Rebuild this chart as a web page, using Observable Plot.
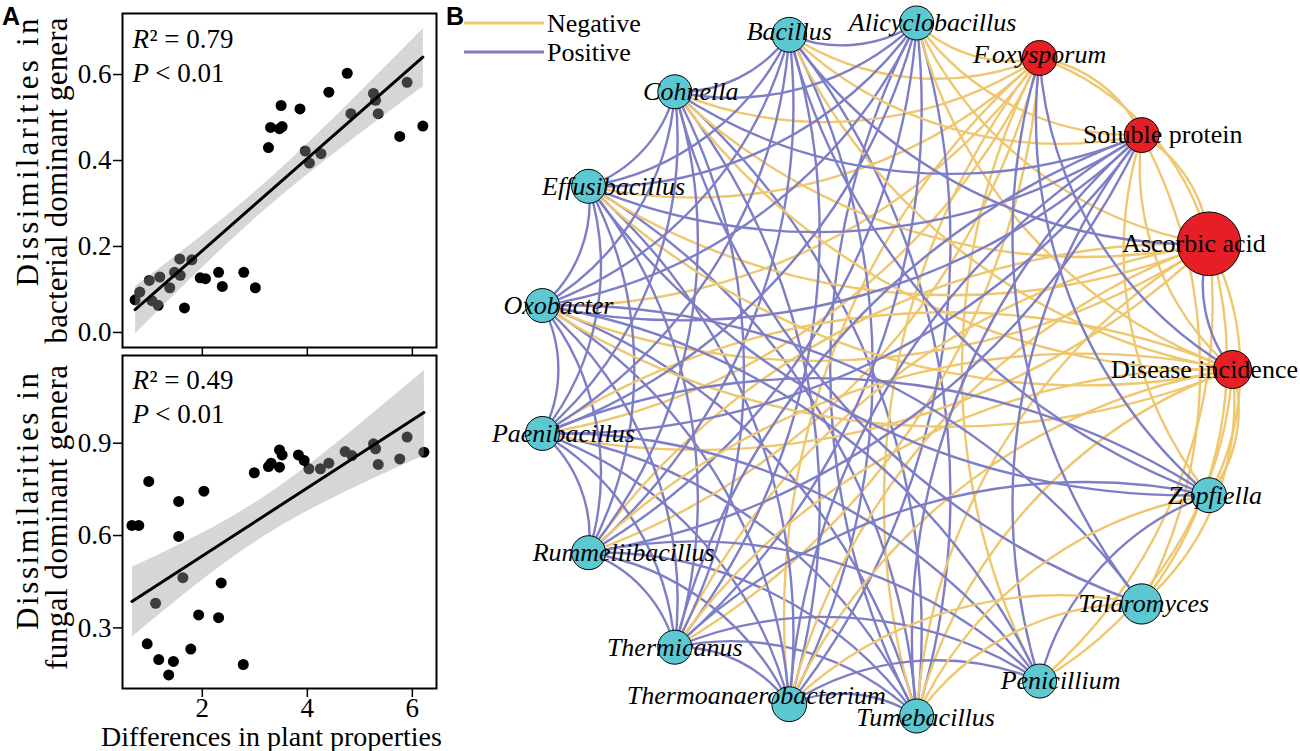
<!DOCTYPE html>
<html>
<head>
<meta charset="utf-8">
<script src="https://cdn.jsdelivr.net/npm/d3@7"></script>
<script src="https://cdn.jsdelivr.net/npm/@observablehq/plot@0.6"></script>
<style>
  body { margin: 0; background: #fff; }
  #fig { position: relative; width: 1300px; height: 751px; overflow: hidden; background: #fff; }
  #fig > svg { position: absolute; }
</style>
</head>
<body>
<div id="fig"></div>
<script>
// ---------------- DATA ----------------
// Panel A (top): differences in plant properties vs bacterial dissimilarity
const bacX = [0.72,0.81,0.99,1.04,1.16,1.19,1.38,1.47,1.57,1.58,1.66,1.80,1.96,2.06,2.31,2.38,2.79,3.01,3.26,3.30,3.47,3.52,3.50,3.86,3.96,4.04,4.26,4.41,4.76,4.83,5.26,5.30,5.35,5.76,5.90,6.20];
const bacY = [0.076,0.094,0.121,0.074,0.063,0.129,0.104,0.140,0.171,0.133,0.057,0.169,0.127,0.125,0.140,0.107,0.140,0.104,0.430,0.477,0.474,0.479,0.528,0.520,0.422,0.394,0.416,0.559,0.603,0.509,0.556,0.540,0.509,0.456,0.582,0.480];
// Panel A (bottom): differences in plant properties vs fungal dissimilarity
const funX = [0.66,0.79,0.98,0.95,1.11,1.17,1.36,1.45,1.55,1.55,1.63,1.78,1.93,2.03,2.31,2.36,2.78,2.99,3.26,3.31,3.47,3.52,3.47,3.83,3.94,4.03,4.25,4.41,4.72,4.85,5.26,5.30,5.35,5.76,5.90,6.22];
const funY = [0.633,0.633,0.776,0.248,0.380,0.197,0.147,0.191,0.711,0.597,0.463,0.231,0.342,0.744,0.333,0.446,0.181,0.804,0.824,0.835,0.878,0.862,0.822,0.862,0.844,0.817,0.817,0.835,0.873,0.860,0.898,0.882,0.831,0.849,0.920,0.871];

const xTicks = [2, 4, 6];
const yTicksBac = [0.0, 0.2, 0.4, 0.6];
const yTicksFun = [0.3, 0.6, 0.9];
const statR2 = ["0.79", "0.49"];
const statP = ["0.01", "0.01"];
const yTitleBac = ["Dissimilarities in", "bacterial dominant genera"];
const yTitleFun = ["Dissimilarities in", "fungal dominant genera"];
const xTitle = "Differences in plant properties";

// Panel B: network (nodes listed clockwise starting at 3 o'clock)
const nodeNames = ["Disease incidence","Zopfiella","Talaromyces","Penicillium","Tumebacillus","Thermoanaerobacterium","Thermicanus","Rummeliibacillus","Paenibacillus","Oxobacter","Effusibacillus","Cohnella","Bacillus","Alicyclobacillus","F.oxysporum","Soluble protein","Ascorbic acid"];
const nodeType = ["trait","genus","genus","genus","genus","genus","genus","genus","genus","genus","genus","genus","genus","genus","pathogen","trait","trait"];
const nodeImportance = [1.25,1.05,1.4,1.0,1.0,1.05,1.0,1.0,1.0,1.0,1.0,1.0,1.05,1.0,1.05,1.05,3.5];
// edges: [source, target, sign]  (+1 positive, -1 negative)
const edges = [
  [5,4,1],[6,4,1],[7,4,1],[8,4,1],[9,4,1],[10,4,1],[11,4,1],[12,4,1],[4,13,1],
  [4,14,-1],[5,14,-1],[14,6,-1],[14,7,-1],[14,8,-1],[14,9,-1],[14,10,-1],[14,11,-1],[14,12,-1],[14,13,-1],[3,14,-1],[14,16,-1],
  [6,5,1],[7,5,1],[8,5,1],[9,5,1],[10,5,1],[11,5,1],[12,5,1],[13,5,1],
  [4,16,-1],[5,16,-1],[6,16,-1],[7,16,-1],[16,8,-1],[16,9,-1],[16,10,-1],[16,11,-1],[16,13,-1],[16,1,-1],[16,2,-1],[16,3,-1],
  [7,6,1],[8,6,1],[9,6,1],[10,6,1],[11,6,1],[12,6,1],[13,6,1],
  [8,7,1],[9,7,1],[10,7,1],[11,7,1],[12,7,1],[13,7,1],
  [4,0,-1],[5,0,-1],[6,0,-1],[7,0,-1],[8,0,-1],[0,9,-1],[0,10,-1],[0,11,-1],[0,12,-1],[0,13,-1],[0,1,-1],[0,2,-1],[0,3,-1],
  [9,8,1],[10,8,1],[11,8,1],[12,8,1],[13,8,1],
  [10,9,1],[11,9,1],[12,9,1],[13,9,1],
  [15,12,-1],[15,13,-1],[14,15,-1],[0,15,-1],[15,16,-1],[1,15,-1],[15,2,-1],
  [11,10,1],[12,10,1],[13,10,1],[12,11,1],[13,11,1],[13,12,1],
  [5,3,1],[6,3,1],[7,3,1],[8,3,1],[9,3,1],[9,2,1],[2,11,1],[6,1,1],[8,1,1],[1,10,1],[1,12,1],[3,1,1],
  [4,15,1],[5,15,1],[6,15,1],[15,7,1],[15,8,1],[15,9,1],[15,10,1],[15,11,1],[3,15,1],
  [0,14,1],[1,14,1],[2,14,1],[0,16,1],[16,12,1],
  [4,2,-1],[4,1,-1],[5,2,-1]
];
const signLabels = ["Negative", "Positive"];

// ---------------- STYLE ----------------
const serif = '"Liberation Serif","Times New Roman",serif';
const sans = '"Liberation Sans",Arial,sans-serif';
const negColor = "#efc76f", posColor = "#7e7ec6";
const cyan = "#5cc8d2", red = "#e61f27";

const fig = document.getElementById("fig");
function place(svg, left, top) {
  svg.style.left = left + "px"; svg.style.top = top + "px";
  fig.appendChild(svg);
  return svg;
}
function stretch(svg, content, len) {
  svg.querySelectorAll("text").forEach(t => {
    if (t.textContent === content) { t.setAttribute("textLength", len); t.setAttribute("lengthAdjust", "spacing"); }
  });
}

function scatterPanel(xs, ys, opts) {
  const rows = xs.map((x, i) => ({x, y: ys[i]}));
  const marks = [
    Plot.dot(rows, {x: "x", y: "y", r: 5.5, fill: "black"}),
    Plot.linearRegressionY(rows, {x: "x", y: "y", stroke: "black", strokeWidth: 3, fill: "#999999", fillOpacity: 0.4, ci: 0.95}),
    Plot.axisY({ticks: opts.yTicks, tickFormat: d3.format(".1f"), tickSize: 9, tickPadding: 2, strokeWidth: 1.5, label: null, fontSize: 27}),
    opts.xLabels
      ? Plot.axisX({ticks: xTicks, tickSize: 9, tickPadding: 0, tickFormat: d3.format("d"), strokeWidth: 1.5, label: null, fontSize: 27})
      : Plot.axisX({ticks: xTicks, tickSize: 9, tickFormat: () => "", strokeWidth: 1.5, label: null}),
    Plot.frame({stroke: "black", strokeWidth: 2}),
    Plot.text(["R"], {frameAnchor: "top-left", text: d => d, dx: 10, dy: opts.statDy, lineAnchor: "bottom", textAnchor: "start", fontStyle: "italic", fontSize: 27}),
    Plot.text([opts.r2], {frameAnchor: "top-left", text: d => "\u00b2 = " + d, dx: 27, dy: opts.statDy, lineAnchor: "bottom", textAnchor: "start", fontSize: 27}),
    Plot.text(["P"], {frameAnchor: "top-left", text: d => d, dx: 10, dy: opts.statDy + 34, lineAnchor: "bottom", textAnchor: "start", fontStyle: "italic", fontSize: 27}),
    Plot.text([opts.p], {frameAnchor: "top-left", text: d => " < " + d, dx: 26, dy: opts.statDy + 34, lineAnchor: "bottom", textAnchor: "start", fontSize: 27}),
    Plot.text([opts.yTitle[0]], {frameAnchor: "top-left", text: d => d, rotate: -90, dx: -85, dy: opts.t1c, textAnchor: "middle", lineAnchor: "bottom", fontSize: 31}),
    Plot.text([opts.yTitle[1]], {frameAnchor: "top-left", text: d => d, rotate: -90, dx: -56, dy: opts.t2c, textAnchor: "middle", lineAnchor: "bottom", fontSize: 31})
  ];
  if (opts.xTitle) marks.push(Plot.text([opts.xTitle], {frameAnchor: "bottom", text: d => d, dx: -8, dy: 57, lineAnchor: "bottom", fontSize: 28}));
  const svg = Plot.plot({
    width: 460, height: opts.height,
    marginLeft: 122, marginRight: 24, marginTop: opts.mt, marginBottom: opts.mb,
    style: {background: "transparent", fontFamily: serif, fontSize: "27px", color: "black", overflow: "visible"},
    x: {domain: [0.48, 6.46]},
    y: {domain: opts.yDomain},
    marks
  });
  stretch(svg, opts.yTitle[0], opts.len1);
  stretch(svg, opts.yTitle[1], opts.len2);
  return svg;
}

place(scatterPanel(bacX, bacY, {
  height: 358, mt: 13, mb: 11, yDomain: [-0.035, 0.742], yTicks: yTicksBac,
  r2: statR2[0], p: statP[0], statDy: 34, yTitle: yTitleBac, t1c: 139, t2c: 167, len1: 268, len2: 326, xLabels: false
}), 0, 0);

place(scatterPanel(funX, funY, {
  height: 411, mt: 15, mb: 63, yDomain: [0.103, 1.185], yTicks: yTicksFun,
  r2: statR2[1], p: statP[1], statDy: 33, yTitle: yTitleFun, t1c: 146, t2c: 162, len1: 257, len2: 305, xLabels: true, xTitle
}), 0, 340);

// ---------------- Panel B: network ----------------
const N = nodeNames.length;
const labelNudge = {"Disease incidence":[-28,0],"Zopfiella":[6,0],"Talaromyces":[2,0],"Penicillium":[21,0],"Tumebacillus":[9,2],
  "Thermoanaerobacterium":[-33,-9],"Thermicanus":[0,0],"Rummeliibacillus":[35,0],"Paenibacillus":[21,0],"Oxobacter":[16,0],
  "Effusibacillus":[25,0],"Cohnella":[16,0],"Bacillus":[0,-3],"Alicyclobacillus":[16,0],"F.oxysporum":[0,-3],"Soluble protein":[21,0],"Ascorbic acid":[-15,0]};
const R = 348; // px per unit radius
const nodes = nodeNames.map((name, i) => {
  const a = 2 * Math.PI * i / N;
  const nd = labelNudge[name] || [0, 0];
  return {name, type: nodeType[i], w: nodeImportance[i], x: Math.cos(a), y: Math.sin(a),
          lx: Math.cos(a) + nd[0] / R, ly: Math.sin(a) + nd[1] / R};
});
const links = edges.map(([s, t, sg]) => ({
  x1: nodes[s].x, y1: nodes[s].y, x2: nodes[t].x, y2: nodes[t].y, sign: sg > 0 ? signLabels[1] : signLabels[0]
}));

const net = Plot.plot({
  width: 860, height: 751,
  marginLeft: 96, marginRight: 68, marginTop: 21, marginBottom: 34,
  style: {background: "transparent", fontFamily: serif, fontSize: "26px", color: "black", overflow: "visible"},
  x: {domain: [-1, 1], axis: null},
  y: {domain: [-1, 1], reverse: true, axis: null},
  r: {type: "sqrt", domain: [0, 1], range: [0, 17], clamp: false},
  color: {domain: signLabels, range: [negColor, posColor]},
  marks: [
    Plot.arrow(links, {x1: "x1", y1: "y1", x2: "x2", y2: "y2", bend: 28, headLength: 0, stroke: "sign", strokeWidth: 2.4}),
    Plot.dot(nodes.filter(d => d.type === "genus"), {x: "x", y: "y", r: "w", fill: cyan, stroke: "black", strokeWidth: 1}),
    Plot.dot(nodes.filter(d => d.type !== "genus"), {x: "x", y: "y", r: "w", fill: red, stroke: "black", strokeWidth: 1}),
    Plot.text(nodes.filter(d => d.type !== "trait"), {x: "lx", y: "ly", text: "name", fontStyle: "italic", fontSize: 26, fill: "black"}),
    Plot.text(nodes.filter(d => d.type === "trait"), {x: "lx", y: "ly", text: "name", fontSize: 26, fill: "black"})
  ]
});
place(net, 440, 0);

// ---------------- Overlay: panel letters + legend ----------------
const ns = "http://www.w3.org/2000/svg";
const ov = document.createElementNS(ns, "svg");
ov.setAttribute("width", 1300); ov.setAttribute("height", 751);
ov.style.left = "0px"; ov.style.top = "0px"; ov.style.pointerEvents = "none";
function addText(txt, x, y, attrs) {
  const t = document.createElementNS(ns, "text");
  t.setAttribute("x", x); t.setAttribute("y", y);
  for (const k in attrs) t.setAttribute(k, attrs[k]);
  t.textContent = txt; ov.appendChild(t);
}
function addLine(x1, y, x2, color) {
  const l = document.createElementNS(ns, "line");
  l.setAttribute("x1", x1); l.setAttribute("x2", x2); l.setAttribute("y1", y); l.setAttribute("y2", y);
  l.setAttribute("stroke", color); l.setAttribute("stroke-width", 3); ov.appendChild(l);
}
addText("A", 2, 25, {"font-family": sans, "font-weight": "bold", "font-size": 25});
addText("B", 446, 25, {"font-family": sans, "font-weight": "bold", "font-size": 25});
addLine(464, 23, 544, negColor);
addLine(464, 52, 544, posColor);
addText(signLabels[0], 547, 32, {"font-family": serif, "font-size": 26});
addText(signLabels[1], 547, 61, {"font-family": serif, "font-size": 26});
fig.appendChild(ov);
</script>
</body>
</html>
